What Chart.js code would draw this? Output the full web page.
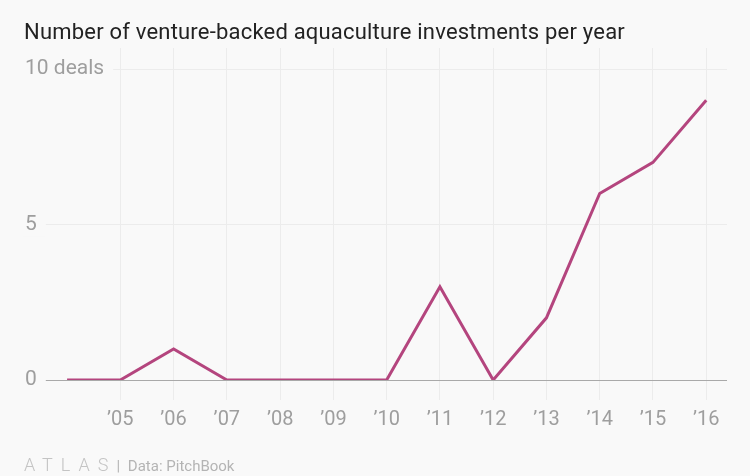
<!DOCTYPE html>
<html>
<head>
<meta charset="utf-8">
<script src="https://cdn.jsdelivr.net/npm/chart.js@4"></script>
<style>
  html, body { margin: 0; padding: 0; background: #f9f9f9; }
  #wrap { position: relative; width: 750px; height: 476px; overflow: hidden; }
  #chart { position: absolute; left: 0; top: 0; }
  #title { position: absolute; left: 24px; top: 19px; font: 400 22px Roboto, sans-serif; letter-spacing: 0.2px; color: #222; white-space: nowrap; }
  #footer { position: absolute; left: 24px; top: 454px; font: 400 15px Roboto, sans-serif; color: #b4b4b4; white-space: nowrap; }
  #footer .logo { font-weight: 300; font-size: 18px; letter-spacing: 8px; color: #c4c4c4; }
  #footer .sep { margin-left: 0px; margin-right: 4px; }
</style>
</head>
<body>
<div id="wrap">
  <canvas id="chart" width="750" height="476"></canvas>
  <div id="title">Number of venture-backed aquaculture investments per year</div>
  <div id="footer"><span class="logo">ATLAS</span><span class="sep">|</span> Data: PitchBook</div>
</div>
<script>
var years = [2004, 2005, 2006, 2007, 2008, 2009, 2010, 2011, 2012, 2013, 2014, 2015, 2016];
var deals = [0, 0, 1, 0, 0, 0, 0, 3, 0, 2, 6, 7, 9];
var xTickYears = [2005, 2006, 2007, 2008, 2009, 2010, 2011, 2012, 2013, 2014, 2015, 2016];
var yTickValues = [0, 5, 10];
var yTickLabels = ["0", "5", "10 deals"];

var bg = "#f9f9f9";

// covers the horizontal gridlines behind the y labels
var labelBackdrop = {
    id: "labelBackdrop",
    afterDatasetsDraw: function (chart) {
        var y = chart.scales.y;
        var ctx = chart.ctx;
        ctx.save();
        ctx.font = "400 21px Roboto, sans-serif";
        ctx.fillStyle = bg;
        y.ticks.forEach(function (t) {
            var label = yTickLabels[yTickValues.indexOf(t.value)];
            var w = ctx.measureText(label).width;
            var py = y.getPixelForValue(t.value);
            ctx.fillRect(chart.chartArea.left - 2, py - 12, w + 11, 24);
        });
        ctx.restore();
    }
};

var ctx = document.getElementById("chart").getContext("2d");
new Chart(ctx, {
    type: "line",
    data: {
        datasets: [{
            data: years.map(function (yr, i) { return { x: yr, y: deals[i] }; }),
            borderColor: "#b4457e",
            borderWidth: 3,
            pointRadius: 0,
            tension: 0,
            fill: false
        }]
    },
    options: {
        responsive: false,
        animation: false,
        layout: { padding: { left: 25, right: 23, top: 48, bottom: 36 } },
        plugins: { legend: { display: false }, tooltip: { enabled: false } },
        scales: {
            x: {
                type: "linear",
                min: 2003.21,
                max: 2016.39,
                afterBuildTicks: function (axis) {
                    axis.ticks = xTickYears.map(function (v) { return { value: v }; });
                },
                grid: { color: "#ececec", lineWidth: 1, drawTicks: true, tickLength: 20 },
                border: { display: false },
                ticks: {
                    padding: 8,
                    color: "#9e9e9e",
                    font: { family: "Roboto", size: 20 },
                    maxRotation: 0,
                    autoSkip: false,
                    callback: function (v) { return "\u2019" + String(v).slice(2); }
                }
            },
            y: {
                min: 0,
                max: 10.68,
                afterBuildTicks: function (axis) {
                    axis.ticks = yTickValues.map(function (v) { return { value: v }; });
                },
                grid: {
                    drawTicks: false,
                    color: function (c) { return c.tick && c.tick.value === 0 ? "#a9a9a9" : "#ececec"; }
                },
                border: { display: false },
                ticks: {
                    mirror: true,
                    padding: 0,
                    z: 1,
                    color: "#9e9e9e",
                    font: { family: "Roboto", size: 21 },
                    callback: function (v) { return yTickLabels[yTickValues.indexOf(v)]; }
                }
            }
        }
    },
    plugins: [labelBackdrop]
});
</script>
</body>
</html>
